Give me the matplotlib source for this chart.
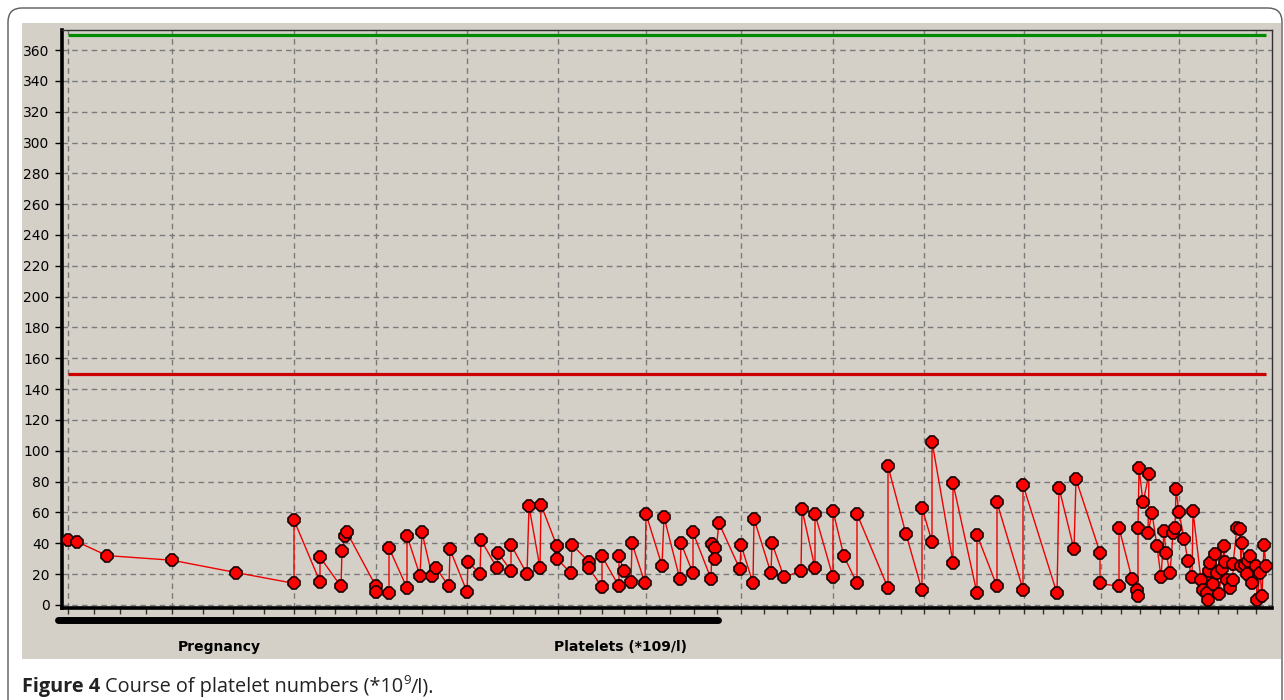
import numpy as np
import matplotlib

matplotlib.use('Agg')
import matplotlib.pyplot as plt
import matplotlib.transforms as mtransforms
from matplotlib.patches import Rectangle, FancyBboxPatch

# Measurement days (days since first sample) and platelet counts (*10^9/l)
days = [6, 15, 45, 110, 174, 232, 232, 258, 258, 279, 280, 283, 285,
        314, 314, 327, 327, 345, 345, 358, 360, 370, 374, 387, 388,
        405, 406, 418, 419, 435, 436, 449, 449, 465, 467, 478, 479,
        495, 495, 509, 510, 527, 527, 540, 540, 557, 557, 562, 569, 570,
        583, 584, 600, 602, 618, 619, 631, 631, 649, 650, 653, 653, 657,
        678, 679, 691, 692, 709, 710, 722, 739, 740, 753, 753, 771, 771,
        782, 795, 795, 826, 826, 844, 860, 860, 870, 870, 891, 891,
        915, 915, 935, 935, 961, 961, 995, 997, 1012, 1014, 1038, 1038,
        1057, 1057, 1070, 1075, 1076, 1076, 1077, 1081, 1087, 1086, 1090,
        1095, 1099, 1102, 1104, 1108, 1111, 1113, 1114, 1117, 1122, 1126,
        1130, 1131, 1139, 1141, 1145, 1146, 1147, 1148, 1151, 1153, 1155,
        1157, 1160, 1162, 1163, 1165, 1168, 1171, 1171, 1175, 1178, 1179,
        1180, 1183, 1185, 1186, 1188, 1190, 1194, 1195, 1198, 1200, 1202,
        1204]
platelets = [42, 41, 32, 29, 21, 14, 55, 15, 31, 12, 35, 45, 47,
             12, 8.5, 7.5, 37, 11, 45, 19, 47, 19, 24, 12, 36,
             8.5, 28, 20, 42, 24, 34, 22, 39, 20, 64, 24, 65,
             38, 30, 20.5, 39, 28, 24, 11.5, 31.5, 12, 31.5, 22, 15, 40,
             14, 59, 25.5, 57, 16.5, 40, 20.5, 47, 17, 39.5, 37, 30, 53,
             23, 39, 14, 56, 20.5, 40, 18, 22, 62, 24, 59, 18, 61,
             31.5, 14, 59, 11, 90, 46, 9.5, 63, 41, 106, 27.5, 79,
             7.5, 45.5, 12, 66.5, 10, 78, 7.5, 76, 36, 81.5, 34, 14,
             12, 50, 17, 10, 5.5, 50, 89, 66.5, 85, 46.5, 59.5,
             38, 18, 48, 34, 20.5, 46.5, 50, 75, 60, 43, 28.5,
             18, 61, 16, 10, 7.5, 3, 22, 27, 13.5, 33, 21,
             7, 23, 38, 28, 16, 11, 16, 26.5, 50, 49, 25,
             40, 26, 20, 28.5, 31.5, 14, 25, 3, 21, 5.5, 39,
             25]

upper_limit = 370
lower_limit = 150
grid_days = [6, 110, 232, 314, 405, 496, 584, 679, 771, 862, 962, 1039, 1117, 1194]
pregnancy_span = [-4, 656]

W, H, DPI = 1284, 700, 100
fig = plt.figure(figsize=(W / DPI, H / DPI), dpi=DPI)
fig.patch.set_facecolor('white')
px = mtransforms.IdentityTransform()

# frame round the figure and the grey panel (kept behind the axes)
fig.patches.append(FancyBboxPatch((8, -20), 1274, H - 8 + 20, boxstyle='round,pad=0,rounding_size=14',
                                  transform=px, facecolor='none', edgecolor='#5a5a5a', lw=1.0,
                                  zorder=-10))
fig.patches.append(Rectangle((22, H - 659), 1259, 636, transform=px,
                             facecolor='#d4d0c8', edgecolor='none', zorder=-9))

ax = fig.add_axes([62 / W, 92 / H, 1210 / W, 578 / H])
ax.set_facecolor('#d4d0c8')
ax.set_xlim(0, 1210)
ax.set_ylim(-2, 373)

ax.hlines(upper_limit, days[0], days[-1], color='#008a00', lw=2.3, zorder=3)
ax.hlines(lower_limit, days[0], days[-1], color='#cc0000', lw=2.3, zorder=3)
ax.plot(days, platelets, '-', color='#ee0000', lw=1.0, zorder=4)
ax.plot(days, platelets, linestyle='none', marker='8', markersize=8.8,
        markerfacecolor='#ff0000', markeredgecolor='#1a0000', markeredgewidth=1.2, zorder=5)

ax.set_yticks(np.arange(0, 361, 20))
ax.set_xticks(grid_days)
minor = []
for a, b in zip(grid_days[:-1], grid_days[1:]):
    minor += list(np.linspace(a, b, 5)[1:-1])
ax.set_xticks(minor, minor=True)
ax.set_xticklabels([])
ax.grid(True, which='major', linestyle=(0, (4, 3)), color='#7a7a7a', lw=1.0)
ax.tick_params(axis='y', direction='out', length=5, width=1, labelsize=10, pad=4, colors='black')
ax.tick_params(axis='x', which='both', direction='out', length=4, width=1, color='#333333')

for side in ['left', 'bottom']:
    ax.spines[side].set_linewidth(2.6)
    ax.spines[side].set_color('black')
for side in ['top', 'right']:
    ax.spines[side].set_linewidth(1.0)
    ax.spines[side].set_color('#303030')

# black bar marking pregnancy period and the labels under the axis
trans = mtransforms.blended_transform_factory(ax.transData, ax.transAxes)
ax.plot(pregnancy_span, [-0.021, -0.021], transform=trans, color='black', lw=5,
        solid_capstyle='round', clip_on=False)
ax.text(157, -0.068, 'Pregnancy', transform=trans, ha='center', va='center',
        fontsize=10, fontweight='bold')
ax.text(558, -0.068, 'Platelets (*109/l)', transform=trans, ha='center', va='center',
        fontsize=10, fontweight='bold')

# caption
fig.canvas.draw()
renderer = fig.canvas.get_renderer()
x = 22
base = H - 692
parts = [('Figure 4 ', 'bold', 14.3, 0), ('Course of platelet numbers (*10', 'normal', 14.3, 0),
         ('9', 'normal', 9.5, 8), ('/l).', 'normal', 14.3, 0)]
for s, w, fs, dy in parts:
    t = fig.text(x, base + dy, s, transform=px, fontsize=fs, fontweight=w,
                 family='Open Sans', color='#222222', va='baseline', ha='left')
    bb = t.get_window_extent(renderer)
    x = bb.x1

fig.savefig('out.png', dpi=DPI)
